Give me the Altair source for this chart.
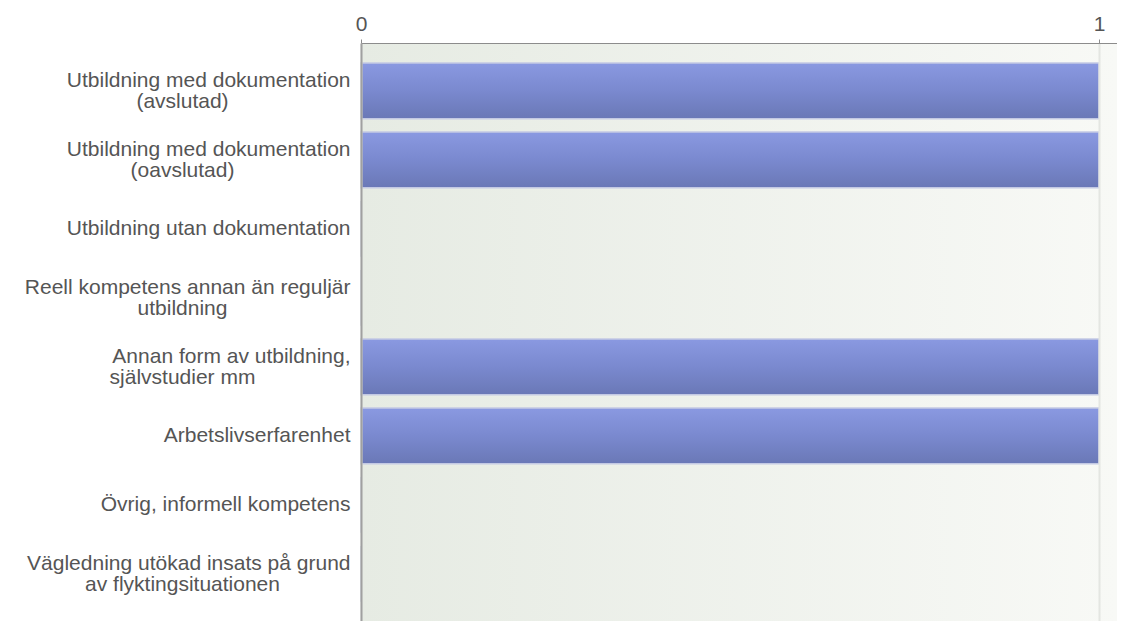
import altair as alt
import pandas as pd

line1 = [
    "Utbildning med dokumentation",
    "Utbildning med dokumentation",
    "Utbildning utan dokumentation",
    "Reell kompetens annan än reguljär",
    "Annan form av utbildning,",
    "Arbetslivserfarenhet",
    "Övrig, informell kompetens",
    "Vägledning utökad insats på grund",
]
line2 = [
    "(avslutad)",
    "(oavslutad)",
    "",
    "utbildning",
    "självstudier mm",
    "",
    "",
    "av flyktingsituationen",
]
values = [1, 1, 0, 0, 1, 1, 0, 0]
x_ticks = [0, 1]

keys = [a + ("|" + b if b else "") for a, b in zip(line1, line2)]
df = pd.DataFrame({"cat": keys, "value": values})

W, H = 756, 578
FONT = "Liberation Sans"
FS = 21
TXT = "#555555"
x_max = W / 738.0

xscale = alt.Scale(domain=[0, x_max], nice=False, zero=True)
yscale = alt.Scale(domain=keys, paddingInner=0.19, paddingOuter=0.283, align=0.51)

bg = alt.Chart(alt.Data(values=[{"a": 1}])).mark_rect(
    color=alt.Gradient(
        gradient="linear",
        stops=[alt.GradientStop(color="#e6ebe3", offset=0),
               alt.GradientStop(color="#f8f9f6", offset=1)],
        x1=0, x2=1, y1=0, y2=0,
    )
).encode(x=alt.value(0), x2=alt.value("width"), y=alt.value(0), y2=alt.value("height"))

bars = alt.Chart(df).mark_bar(
    color=alt.Gradient(
        gradient="linear",
        stops=[alt.GradientStop(color="#8a99e1", offset=0),
               alt.GradientStop(color="#7a89cf", offset=0.5),
               alt.GradientStop(color="#6a78b6", offset=1)],
        x1=0, x2=0, y1=0, y2=1,
    ),
    stroke="#c3c9e3", strokeWidth=1.5,
).encode(
    x=alt.X("value:Q", scale=xscale, title=None,
            axis=alt.Axis(orient="top", values=x_ticks, format="d", grid=True,
                          gridColor="#e4e6e2", gridWidth=2, domainColor="#8c8c8c",
                          tickColor="#8c8c8c", tickSize=4, labelFont=FONT, labelFlush=False,
                          labelFontSize=FS, labelColor=TXT, labelPadding=5, zindex=1)),
    y=alt.Y("cat:N", scale=yscale, sort=keys, title=None,
            axis=alt.Axis(orient="left", ticks=False, domainColor="#a0a0a0", domainWidth=2,
                          labelExpr="split(datum.value, '|')[0]",
                          labelAlign="right", labelPadding=11, labelLimit=400,
                          labelFont=FONT, labelFontSize=FS, labelColor=TXT, zindex=1,
                          labelBaseline={"condition": {"test": "indexof(datum.value, '|') >= 0",
                                                       "value": "bottom"},
                                         "value": "middle"})),
)

second = alt.Chart(df).mark_point(opacity=0).encode(
    y=alt.Y("cat:N", scale=yscale, sort=keys, title=None,
            axis=alt.Axis(orient="left", ticks=False, domain=False,
                          labelExpr="indexof(datum.value, '|') >= 0 ? split(datum.value, '|')[1] : ''",
                          labelAlign="center", labelBaseline="top", labelPadding=179,
                          labelLimit=400, labelFont=FONT, labelFontSize=FS,
                          labelColor=TXT, zindex=1)),
)

chart = alt.layer(bg, bars, second).resolve_axis(y="independent").properties(
    width=W, height=H,
    autosize=alt.AutoSizeParams(type="none"),
    padding={"left": 353, "top": 35, "right": 0, "bottom": 0},
).configure_view(stroke=None).configure(background="white")

chart.save("out.html", embed_options={"renderer": "svg", "actions": False})
